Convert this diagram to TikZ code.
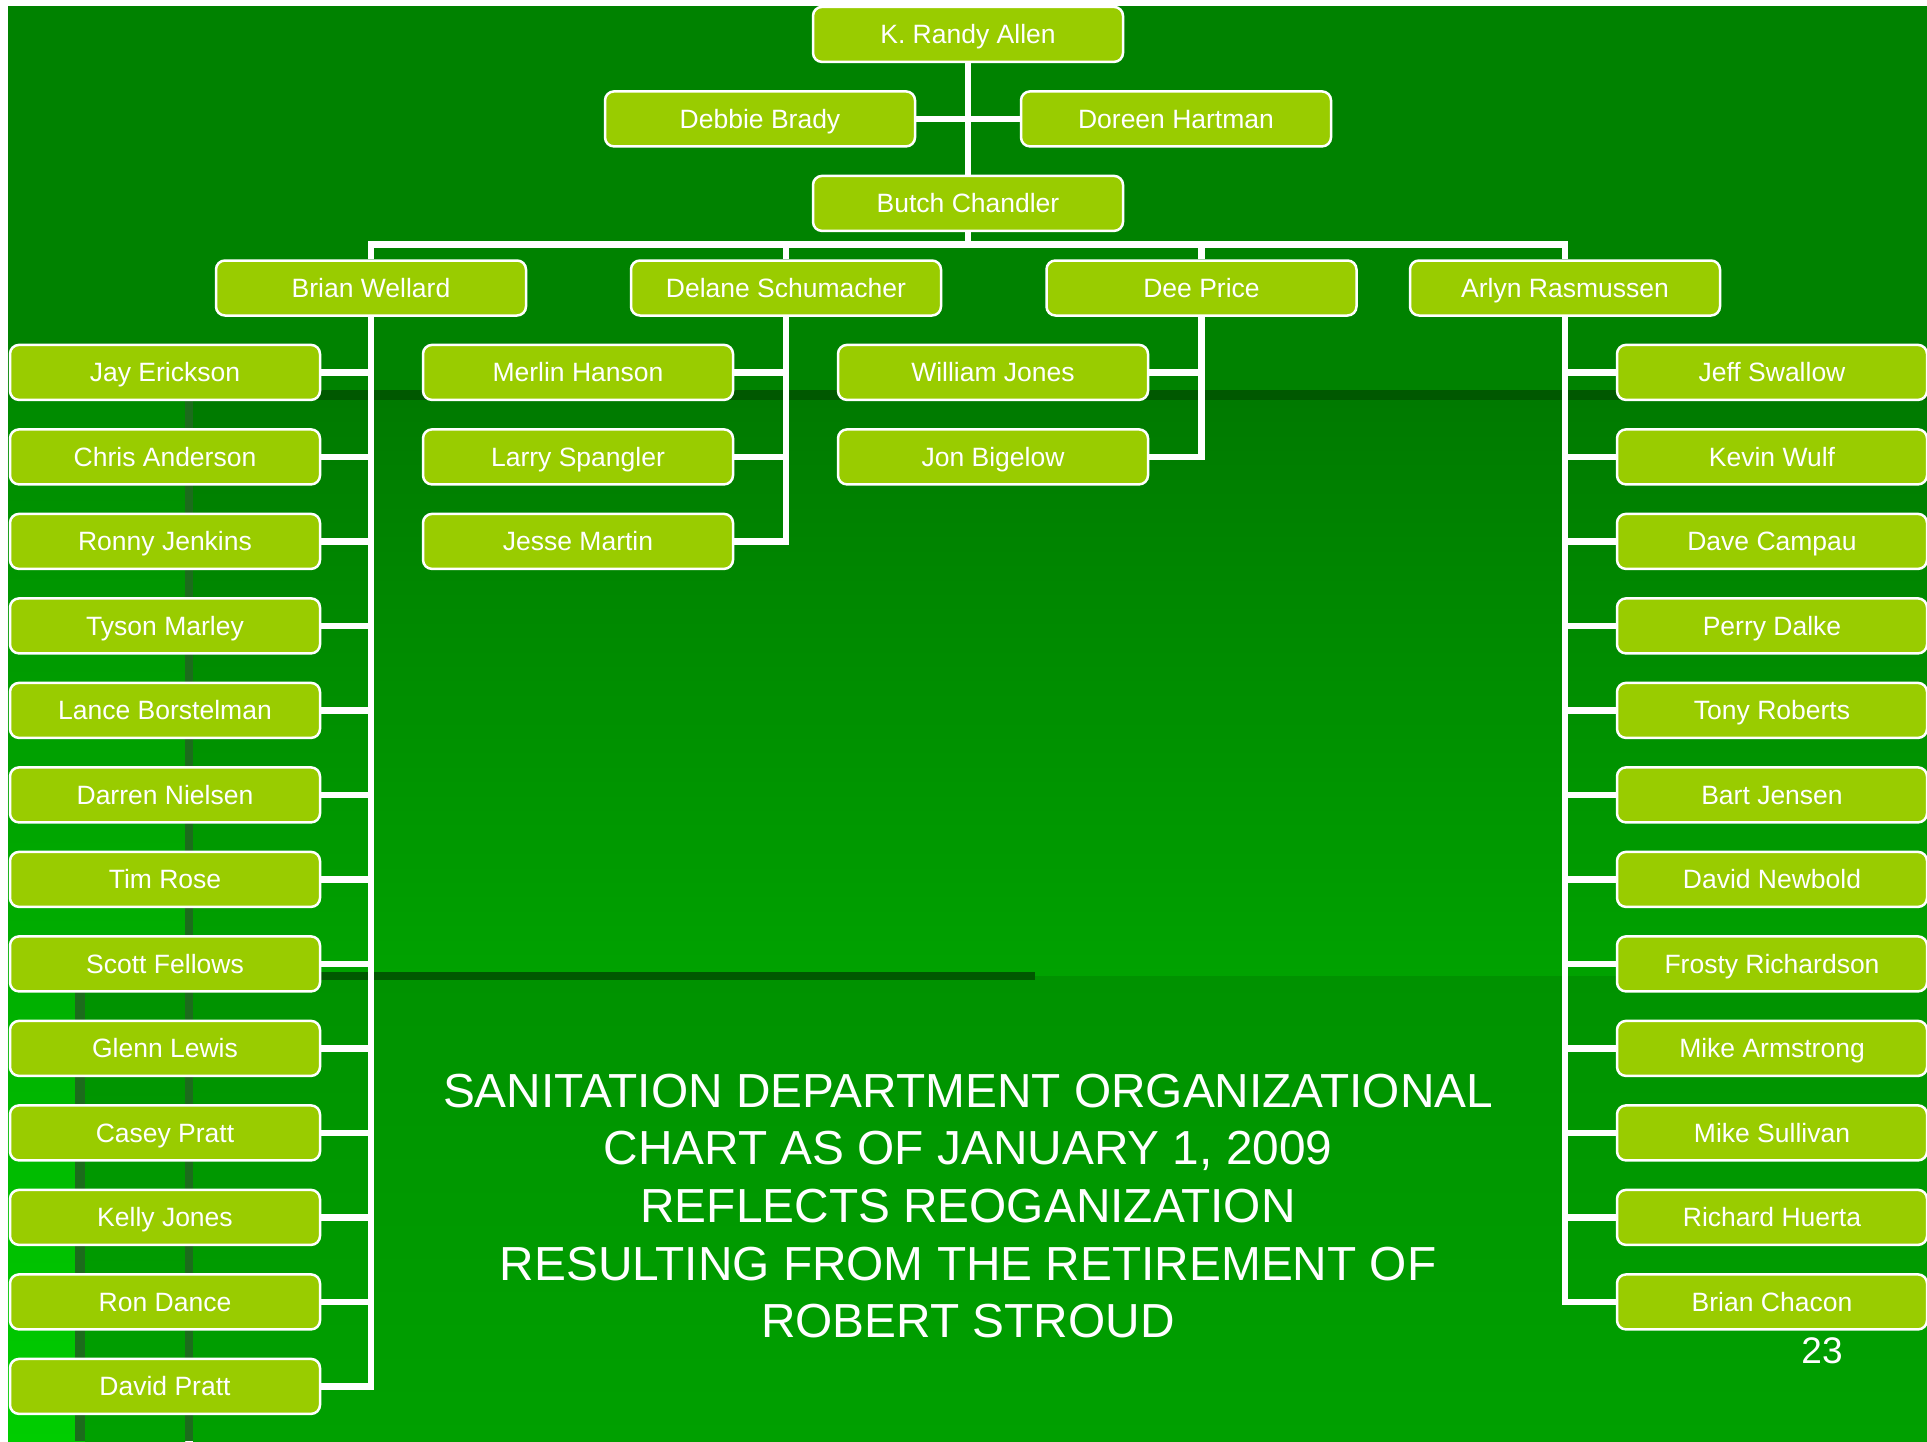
\documentclass[tikz,border=0pt]{standalone}
\usepackage{fontspec}
\setmainfont{Liberation Sans}
\definecolor{bgtop}{RGB}{0,130,0}
\definecolor{bgband}{RGB}{0,88,0}
\definecolor{bgstripe}{RGB}{28,108,28}
\definecolor{striphi}{RGB}{0,138,0}
\definecolor{striplo}{RGB}{0,205,0}
\definecolor{texa}{RGB}{0,122,0}
\definecolor{texb}{RGB}{0,162,0}
\definecolor{texc}{RGB}{0,146,0}
\definecolor{texd}{RGB}{0,160,0}
\definecolor{boxgreen}{RGB}{153,204,0}
\tikzset{
  person/.style={rectangle, rounded corners=9pt, draw=white, line width=2.5pt,
    fill=boxgreen, text=white, minimum width=310pt, minimum height=55pt,
    inner sep=0pt, text height=19pt, text depth=0pt,
    font=\fontsize{26.5}{30}\selectfont},
  conn/.style={draw=white, line width=6.5pt, line join=miter},
  title/.style={text=white, align=center, font=\fontsize{47.8}{57.7}\selectfont, inner sep=0pt},
  pagenum/.style={text=white, font=\fontsize{37}{40}\selectfont, inner sep=0pt}
}
\begin{document}
\begin{tikzpicture}[x=1pt,y={(0pt,-1pt)}]
\path[use as bounding box, fill=white] (0,0) rectangle (1927,1441);
% background
\fill[bgtop] (8,6) rectangle (1927,1441);
\shade[top color=striphi, bottom color=striplo] (8,400) rectangle (185,1441);
\shade[top color=texa, bottom color=texb] (193,400) rectangle (1927,976);
\shade[top color=texc, bottom color=texd] (193,976) rectangle (1927,1441);
\shade[top color=texc, bottom color=texd] (85,980) rectangle (185,1441);
\fill[bgstripe] (185,390) rectangle (193,1441);
\fill[bgband] (185,390) rectangle (1927,400);
\fill[bgstripe] (75,972) rectangle (85,1441);
\fill[bgband] (75,972) rectangle (1035,980);

% nodes
\node[person] (kra) at (968,34.4) {K. Randy Allen};
\node[person] (db) at (760,118.9) {Debbie Brady};
\node[person] (dh) at (1176,118.9) {Doreen Hartman};
\node[person] (bc) at (968,203.4) {Butch Chandler};
\node[person] (bw) at (371,288) {Brian Wellard};
\node[person] (dsch) at (786,288) {Delane Schumacher};
\node[person] (dpr) at (1201.5,288) {Dee Price};
\node[person] (ar) at (1565,288) {Arlyn Rasmussen};
\coordinate (bus) at (968,244.6);

\foreach \n/\t [count=\i from 4] in {l1/Jay Erickson, l2/Chris Anderson, l3/Ronny Jenkins,
  l4/Tyson Marley, l5/Lance Borstelman, l6/Darren Nielsen, l7/Tim Rose, l8/Scott Fellows,
  l9/Glenn Lewis, l10/Casey Pratt, l11/Kelly Jones, l12/Ron Dance, l13/David Pratt}
  \node[person] (\n) at (165,{34.4+84.5*\i}) {\t};
\foreach \n/\t [count=\i from 4] in {m1/Merlin Hanson, m2/Larry Spangler, m3/Jesse Martin}
  \node[person] (\n) at (578,{34.4+84.5*\i}) {\t};
\foreach \n/\t [count=\i from 4] in {w1/William Jones, w2/Jon Bigelow}
  \node[person] (\n) at (993,{34.4+84.5*\i}) {\t};
\foreach \n/\t [count=\i from 4] in {r1/Jeff Swallow, r2/Kevin Wulf, r3/Dave Campau,
  r4/Perry Dalke, r5/Tony Roberts, r6/Bart Jensen, r7/David Newbold, r8/Frosty Richardson,
  r9/Mike Armstrong, r10/Mike Sullivan, r11/Richard Huerta, r12/Brian Chacon}
  \node[person] (\n) at (1772,{34.4+84.5*\i}) {\t};

% connectors
\draw[conn] (kra.south) -- (bc.north);
\draw[conn] (db.east) -- (dh.west);
\draw[conn] (bc.south) -- (bus);
\draw[conn] (bw.north) -- (bw.north |- bus) -- (ar.north |- bus) -- (ar.north);
\draw[conn] (dsch.north) -- (dsch.north |- bus);
\draw[conn] (dpr.north) -- (dpr.north |- bus);

\draw[conn] (bw.south) |- (l13.east);
\foreach \n in {l1,l2,l3,l4,l5,l6,l7,l8,l9,l10,l11,l12}
  \draw[conn] (\n.east) -- (\n.east -| bw.south);
\draw[conn] (dsch.south) |- (m3.east);
\foreach \n in {m1,m2}
  \draw[conn] (\n.east) -- (\n.east -| dsch.south);
\draw[conn] (dpr.south) |- (w2.east);
\draw[conn] (w1.east) -- (w1.east -| dpr.south);
\draw[conn] (ar.south) |- (r12.west);
\foreach \n in {r1,r2,r3,r4,r5,r6,r7,r8,r9,r10,r11}
  \draw[conn] (\n.west) -- (\n.west -| ar.south);

% texts
\node[title] (ttl) at (968,1206) {SANITATION DEPARTMENT ORGANIZATIONAL\\CHART AS OF JANUARY 1, 2009\\REFLECTS REOGANIZATION\\RESULTING FROM THE RETIREMENT OF\\ROBERT STROUD};
\node[pagenum, anchor=base] (pg) at (1822,1363) {23};
\end{tikzpicture}
\end{document}
